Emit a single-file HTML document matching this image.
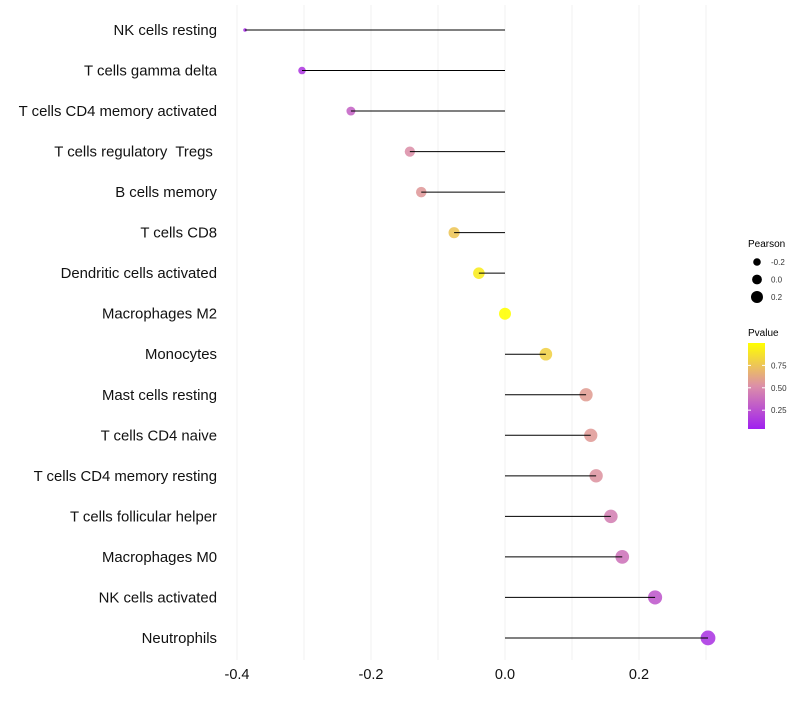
<!DOCTYPE html>
<html><head><meta charset="utf-8"><style>
body{margin:0;background:#fff;font-family:"Liberation Sans",sans-serif}
svg text{font-family:"Liberation Sans",sans-serif;white-space:pre}
</style></head><body>
<svg id="chart" width="800" height="700">
<defs><linearGradient id="pg" x1="0" y1="1" x2="0" y2="0">
<stop offset="0" stop-color="#A020F0"/><stop offset="0.5" stop-color="#DC8FA8"/><stop offset="1" stop-color="#FFFF00"/>
</linearGradient></defs>
<g id="grid"></g><g id="points"></g><g id="stems"></g><g id="axes"></g>
<g id="legend">
<text x="748" y="247" font-size="10">Pearson</text>
<g id="sizeleg"></g>
<text x="748" y="336" font-size="10">Pvalue</text>
<rect x="748" y="343" width="17" height="86" fill="url(#pg)"/>
<g id="colorleg"></g>
</g>
</svg>
<script>
const categories=["NK cells resting","T cells gamma delta","T cells CD4 memory activated","T cells regulatory  Tregs ","B cells memory","T cells CD8","Dendritic cells activated","Macrophages M2","Monocytes","Mast cells resting","T cells CD4 naive","T cells CD4 memory resting","T cells follicular helper","Macrophages M0","NK cells activated","Neutrophils"];
const pearson=[-0.388,-0.303,-0.230,-0.142,-0.125,-0.076,-0.039,0.0,0.061,0.121,0.128,0.136,0.158,0.175,0.224,0.303];
const pvalues=[0.10,0.15,0.33,0.52,0.56,0.75,0.92,1.0,0.80,0.58,0.57,0.54,0.45,0.40,0.28,0.13];
const xTicks=[-0.4,-0.2,0.0,0.2];
const xTickLabels=["-0.4","-0.2","0.0","0.2"];
const sizeLegend=[-0.2,0.0,0.2];
const colorTicks=[0.25,0.5,0.75];
const colorTickLabels=["0.25","0.50","0.75"];
const NS="http://www.w3.org/2000/svg";
const x=v=>505+v*670;
const y=i=>30+i*40.53;
const r=v=>1.8+5.6*Math.sqrt(Math.max(0,(v+0.388)/0.691));
function mix(a,b,t){return a.map((c,k)=>Math.round(c+(b[k]-c)*t));}
function col(p){const lo=[160,32,240],mid=[220,143,168],hi=[255,255,0];
 const t=Math.max(0,Math.min(1,(p-0.04)/0.96));
 const c=t<0.5?mix(lo,mid,t/0.5):mix(mid,hi,(t-0.5)/0.5);return `rgb(${c})`;}
function mk(tag,attrs,parent){const e=document.createElementNS(NS,tag);for(const k in attrs)e.setAttribute(k,attrs[k]);document.getElementById(parent).appendChild(e);return e;}
for(let v=-0.4;v<=0.31;v+=0.1){
 const g=mk('line',{x1:x(v),x2:x(v),y1:5,y2:660,stroke:'#f0f0f0','stroke-width':1},'grid');
 
 
}
categories.forEach((c,i)=>{
 const t=mk('text',{x:217,y:y(i)+5,'font-size':14.9,'text-anchor':'end',fill:'#111'},'axes');t.textContent=c;
 
 
 const l=mk('line',{x1:x(0),x2:x(pearson[i]),y1:y(i),y2:y(i),stroke:'#000','stroke-width':1},'stems');
 
 
 const p=mk('circle',{cx:x(pearson[i]),cy:y(i),r:r(pearson[i]),fill:col(pvalues[i]),'fill-opacity':0.88},'points');
 
 
});
xTicks.forEach((v,i)=>{
 const t=mk('text',{x:x(v),y:679,'font-size':14.5,'text-anchor':'middle',fill:'#111'},'axes');t.textContent=xTickLabels[i];
 
 
});
sizeLegend.forEach((v,i)=>{
 const cy=262+i*17.5;
 const c=mk('circle',{cx:757,cy:cy,r:3.8+i*1.1,fill:'#000'},'sizeleg');
 
 
 const t=mk('text',{x:771,y:cy+3,'font-size':8,fill:'#333'},'sizeleg');t.textContent=v.toFixed(1);
 
 
});
colorTicks.forEach((v,i)=>{
 const cy=429-(v-0.04)/0.96*86;
 mk('line',{x1:748,x2:751,y1:cy,y2:cy,stroke:'#fff'},'colorleg');
 mk('line',{x1:762,x2:765,y1:cy,y2:cy,stroke:'#fff'},'colorleg');
 const t=mk('text',{x:771,y:cy+3,'font-size':8,fill:'#333'},'colorleg');t.textContent=colorTickLabels[i];
 
 
});
</script>
</body></html>
